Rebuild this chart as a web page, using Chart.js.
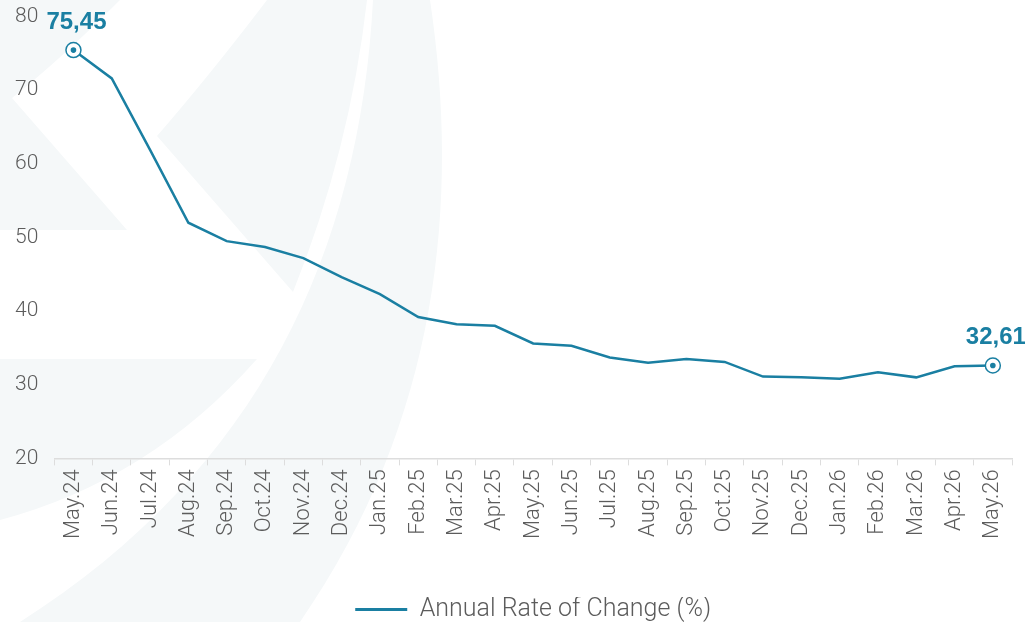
<!DOCTYPE html>
<html>
<head>
<meta charset="utf-8">
<script src="https://cdn.jsdelivr.net/npm/chart.js@4.4.1/dist/chart.umd.min.js"></script>
<style>
    html, body { margin: 0; padding: 0; background: #fff; }
    #rate-chart { display: block; }
</style>
</head>
<body>
<canvas id="rate-chart" width="1025" height="622"></canvas>
<script>
var months = ['May.24', 'Jun.24', 'Jul.24', 'Aug.24', 'Sep.24', 'Oct.24', 'Nov.24', 'Dec.24',
    'Jan.25', 'Feb.25', 'Mar.25', 'Apr.25', 'May.25', 'Jun.25', 'Jul.25', 'Aug.25', 'Sep.25',
    'Oct.25', 'Nov.25', 'Dec.25', 'Jan.26', 'Feb.26', 'Mar.26', 'Apr.26', 'May.26'];
var rates = [75.45, 71.6, 61.9, 52.0, 49.5, 48.7, 47.2, 44.6, 42.3, 39.2, 38.2, 38.0, 35.6,
    35.3, 33.7, 33.0, 33.5, 33.1, 31.1, 31.0, 30.8, 31.7, 31.0, 32.5, 32.61];
var yTicks = [20, 30, 40, 50, 60, 70, 80];
var seriesName = 'Annual Rate of Change (%)';

var lineColor = '#1a7fa2';
var textFont = 'Roboto, "Liberation Sans", Arial, sans-serif';
var last = rates.length - 1;

// faint logo shapes behind the chart
var watermark = {
    id: 'watermark',
    beforeDraw: function (chart) {
        var c = chart.ctx;
        c.save();
        c.fillStyle = '#f5f8f9';
        c.beginPath();
        c.moveTo(0, 0); c.lineTo(120, 0);
        c.quadraticCurveTo(60, 60, 12, 98);
        c.lineTo(127, 230); c.lineTo(0, 230);
        c.closePath(); c.fill();

        c.beginPath();
        c.moveTo(267, 0);
        c.quadraticCurveTo(210, 75, 157, 136);
        c.lineTo(293, 292);
        c.quadraticCurveTo(350, 150, 367, 0);
        c.closePath(); c.fill();

        c.beginPath();
        c.moveTo(373, 0); c.lineTo(430, 0);
        c.bezierCurveTo(460, 200, 440, 420, 300, 622);
        c.lineTo(20, 622);
        c.bezierCurveTo(260, 470, 360, 250, 373, 0);
        c.closePath(); c.fill();

        c.beginPath();
        c.moveTo(0, 359); c.lineTo(257, 359);
        c.quadraticCurveTo(150, 480, 0, 520);
        c.closePath(); c.fill();
        c.restore();
    }
};

// inner dot and value labels on the first and last points
var endLabels = {
    id: 'endLabels',
    afterDatasetsDraw: function (chart) {
        var c = chart.ctx;
        var pts = chart.getDatasetMeta(0).data;
        c.save();
        [0, last].forEach(function (i) {
            var p = pts[i];
            c.fillStyle = lineColor;
            c.beginPath();
            c.arc(p.x, p.y, 2.8, 0, Math.PI * 2);
            c.fill();
            c.font = 'bold 24px "Liberation Sans", Arial, sans-serif';
            c.textAlign = 'center';
            c.textBaseline = 'middle';
            c.fillText(rates[i].toFixed(2).replace('.', ','), p.x + 3, p.y - 28);
        });
        c.restore();
    }
};

new Chart(document.getElementById('rate-chart'), {
    type: 'line',
    data: {
        labels: months,
        datasets: [{
            label: seriesName,
            data: rates,
            borderColor: lineColor,
            backgroundColor: lineColor,
            borderWidth: 2.5,
            tension: 0,
            pointRadius: function (ctx) { return (ctx.dataIndex === 0 || ctx.dataIndex === last) ? 7.5 : 0; },
            pointBackgroundColor: '#fff',
            pointBorderColor: lineColor,
            pointBorderWidth: 1.5,
            pointHoverRadius: 0
        }]
    },
    options: {
        responsive: false,
        animation: false,
        layout: { padding: { top: 0, right: 13, left: 11, bottom: -10 } },
        scales: {
            x: {
                offset: true,
                grid: { display: true, drawOnChartArea: false, offset: true, color: '#dddddd', tickLength: 7 },
                border: { color: '#dddddd', width: 1.5 },
                ticks: {
                    color: '#5c5c5c',
                    font: { family: textFont, size: 22, weight: 300 },
                    minRotation: 90, maxRotation: 90, autoSkip: false, padding: 4
                },
                afterFit: function (axis) { axis.height += 54; }
            },
            y: {
                min: 20, max: 80,
                afterBuildTicks: function (axis) {
                    axis.ticks = yTicks.map(function (v) { return { value: v }; });
                },
                grid: { display: false, tickLength: 12 },
                border: { display: false },
                ticks: {
                    color: '#5c5c5c',
                    font: { family: textFont, size: 21, weight: 300 },
                    padding: 4
                }
            }
        },
        plugins: {
            legend: {
                position: 'bottom',
                fullSize: false,
                labels: {
                    usePointStyle: true,
                    pointStyle: 'line',
                    pointStyleWidth: 52,
                    color: '#5c5c5c',
                    font: { family: textFont, size: 25, weight: 300 },
                    padding: 0,
                    generateLabels: function (chart) {
                        return Chart.defaults.plugins.legend.labels.generateLabels(chart).map(function (item) {
                            item.lineWidth = 3;
                            return item;
                        });
                    }
                }
            },
            tooltip: { enabled: false }
        }
    },
    plugins: [watermark, endLabels]
});
</script>
</body>
</html>
